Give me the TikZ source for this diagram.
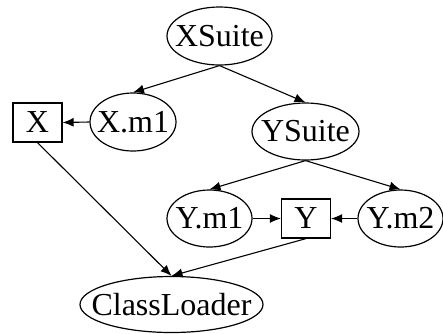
\documentclass[tikz,border=0pt]{standalone}
\usepackage{fontspec}
\setmainfont{Liberation Serif}
\usetikzlibrary{shapes.geometric,arrows.meta}
\begin{document}
\begin{tikzpicture}[x=0.5pt,y=-0.5pt,
    suite/.style={draw,ellipse,line width=0.6pt,inner sep=0pt},
    cls/.style={draw,rectangle,line width=0.6pt,inner sep=0pt,minimum width=24.5pt,minimum height=19.5pt},
    dep/.style={line width=0.55pt,-{Latex[length=5.5pt,width=4.5pt]}}]
                    \useasboundingbox (0,0) rectangle (443,333);
                    {\fontsize{16}{18}\selectfont

                    % Placing node XSuite
                    \node [suite,minimum width=52.5pt,minimum height=29pt] (xsuite) at (219.5,36) {\makebox[0pt]{XSuite}};%

                    % Placing node X.m1
                    \node [suite,minimum width=43pt,minimum height=29pt] (xmone) at (133,122) {\makebox[0pt]{X.m1}};%

                    % Placing node X
                    \node [cls] (x) at (37.5,122.5) {\makebox[0pt]{X}};%

                    % Placing node YSuite
                    \node [suite,minimum width=53.5pt,minimum height=28.5pt] (ysuite) at (305.5,131.5) {\makebox[0pt]{YSuite}};%

                    % Placing node Y.m1
                    \node [suite,minimum width=42.5pt,minimum height=28.5pt] (ymone) at (209.5,218.5) {\makebox[0pt]{Y.m1}};%

                    % Placing node Y
                    \node [cls] (y) at (306,218.5) {\makebox[0pt]{Y}};%

                    % Placing node Y.m2
                    \node [suite,minimum width=42.5pt,minimum height=28.5pt] (ymtwo) at (400.5,218.5) {\makebox[0pt]{Y.m2}};%

                    % Placing node ClassLoader
                    \node [suite,minimum width=91.5pt,minimum height=28pt] (loader) at (171.5,304.5) {\makebox[0pt]{ClassLoader}};%
                    }

                    % Drawing edge XSuite X.m1
                    \draw [dep] (xsuite.south) -- (xmone.north);%

                    % Drawing edge XSuite YSuite
                    \draw [dep] (xsuite.south) -- (ysuite.north);%

                    % Drawing edge X.m1 X
                    \draw [dep] (xmone.west) -- (x.east);%

                    % Drawing edge YSuite Y.m1
                    \draw [dep] (ysuite.south) -- (ymone.north);%

                    % Drawing edge YSuite Y.m2
                    \draw [dep] (ysuite.south) -- (ymtwo.north);%

                    % Drawing edge Y.m1 Y
                    \draw [dep] (ymone.east) -- (y.west);%

                    % Drawing edge Y.m2 Y
                    \draw [dep] (ymtwo.west) -- (y.east);%

                    % Drawing edge X ClassLoader
                    \draw [dep] (x.south) -- (loader.north);%

                    % Drawing edge Y ClassLoader
                    \draw [dep] (y.south) -- (loader.north);%
\end{tikzpicture}
\end{document}
